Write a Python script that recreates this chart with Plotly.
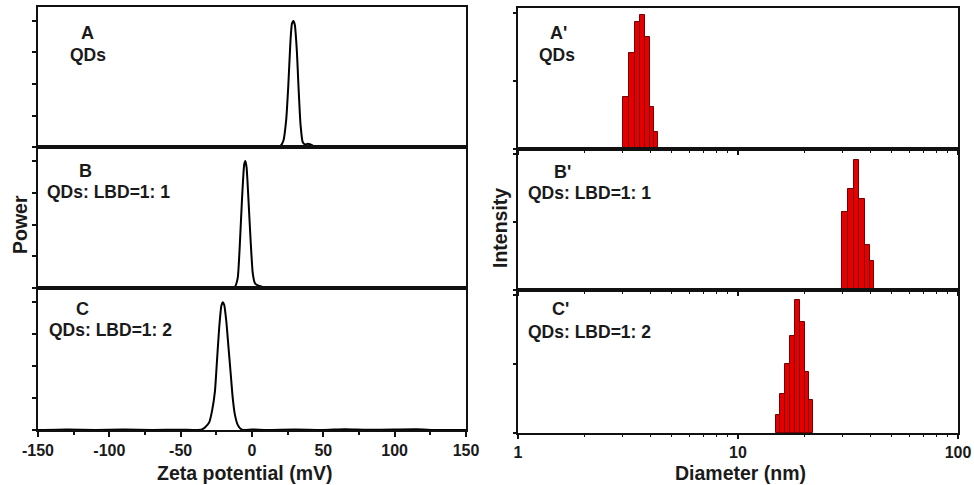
import plotly.graph_objects as go

# ---------------- data ----------------
# Zeta potential curves (mV, normalized power)
zeta_a = [-150, -120, -90, -60, -40, -25, -15, -10, -6, -2, 2, 6, 10, 14, 18, 20, 22, 24, 25.5, 27,
          28, 29, 30, 31.5, 32.5, 34, 35.5, 37, 39, 41, 43, 46, 60, 90, 120, 150]
power_a = [0, 0, 0, 0, 0, 0, 0, 0.004, 0.006, 0.004, 0.005, 0.003, 0.006, 0.004, 0.006, 0.01, 0.05, 0.22, 0.5, 0.85,
           0.98, 1.0, 0.97, 0.75, 0.5, 0.18, 0.04, 0.02, 0.025, 0.02, 0.008, 0, 0, 0, 0, 0]

zeta_b = [-150, -100, -50, -25, -15, -12, -10, -8.5, -7, -5.5, -4.7, -3.8, -2.5, -1, 0.5, 2, 4, 6, 8, 10,
          30, 60, 100, 150]
power_b = [0, 0, 0, 0, 0, 0.01, 0.08, 0.35, 0.7, 0.97, 1.0, 0.95, 0.7, 0.38, 0.12, 0.04, 0.02, 0.015, 0.005, 0,
           0, 0, 0, 0]

zeta_c = [-150, -130, -110, -90, -70, -50, -40, -35, -33, -30, -28, -26, -24.5, -23, -21.5, -20.5, -19.5, -18,
          -16.5, -15, -13.5, -12, -10, -8, -6, 0, 10, 30, 50, 65, 80, 100, 115, 130, 150]
power_c = [0, 0.004, 0, 0.003, 0, 0.002, 0, 0.005, 0.02, 0.06, 0.15, 0.3, 0.55, 0.8, 0.97, 1.0, 0.98, 0.85,
           0.65, 0.45, 0.25, 0.12, 0.04, 0.01, 0, 0.004, 0, 0.003, 0, 0.006, 0.002, 0.004, 0.006, 0, 0]

# DLS size distributions: bin edges (nm) and intensities
edges_a = [3.01, 3.206, 3.393, 3.585, 3.79, 3.981, 4.166, 4.343]
inten_a = [0.77, 1.41, 1.86, 1.97, 1.65, 0.61, 0.25]

edges_b = [29.6, 31.72, 33.68, 35.6, 37.78, 39.8, 41.5]
inten_b = [1.14, 1.49, 1.91, 1.33, 0.66, 0.42]

edges_c = [14.84, 15.52, 16.36, 17.24, 18.16, 19.13, 20.16, 21.02, 21.99]
inten_c = [0.26, 0.57, 1.0, 1.41, 1.93, 1.61, 0.89, 0.48]

zeta_ticks = [-150, -100, -50, 0, 50, 100, 150]
zeta_labels = ["-150", "-100", "-50", "0", "50", "100", "150"]
size_ticks = [1, 10, 100]
size_labels = ["1", "10", "100"]
size_minor = [2, 3, 4, 5, 6, 7, 8, 9, 20, 30, 40, 50, 60, 70, 80, 90]

# ---------------- figure ----------------
W, H = 974, 485
FONT = "Liberation Sans, Arial, sans-serif"
TXT = "#1a1a1a"
AX = "#111111"

fig = go.Figure()

for i, (xs, ys) in enumerate([(zeta_a, power_a), (zeta_b, power_b), (zeta_c, power_c)]):
    n = "" if i == 0 else str(i + 1)
    fig.add_trace(go.Scatter(x=xs, y=ys, mode="lines", xaxis="x" + n, yaxis="y" + n,
                             line=dict(color="black", width=2, shape="spline", smoothing=0.5),
                             showlegend=False, hoverinfo="skip"))

for i, (ed, hv) in enumerate([(edges_a, inten_a), (edges_b, inten_b), (edges_c, inten_c)]):
    n = str(i + 4)
    centers = [(ed[k] + ed[k + 1]) / 2 for k in range(len(hv))]
    widths = [ed[k + 1] - ed[k] for k in range(len(hv))]
    fig.add_trace(go.Bar(x=centers, y=hv, width=widths, xaxis="x" + n, yaxis="y" + n,
                         marker=dict(color="rgb(228,0,0)", line=dict(color="rgb(120,0,0)", width=1)),
                         showlegend=False, hoverinfo="skip"))

def px(v):
    return v / W

def py(v):
    return 1 - v / H

left_x = [px(38), px(466)]
right_x = [px(518), px(958)]
left_y = [[py(147), py(7)], [py(288), py(147)], [py(430), py(288)]]
right_y = [[py(149), py(8)], [py(290), py(149)], [py(433), py(290)]]

layout = dict(width=W, height=H, margin=dict(l=0, r=0, t=0, b=0, autoexpand=False),
              paper_bgcolor="white", plot_bgcolor="white", bargap=0,
              font=dict(family=FONT, color=TXT))

common = dict(showline=True, mirror=True, linecolor=AX, linewidth=2, showgrid=False, zeroline=False,
              tickcolor=AX, tickwidth=1.5, automargin=False)

TICKFONT = dict(family=FONT, size=16, color=TXT)

for i in range(3):
    n = "" if i == 0 else str(i + 1)
    xa = dict(common, domain=left_x, range=[-150, 150], anchor="y" + n)
    if i == 2:
        xa.update(ticks="outside", ticklen=5, tickvals=zeta_ticks,
                  ticktext=["<b>%s</b>" % t for t in zeta_labels], showticklabels=True,
                  tickfont=TICKFONT,
                  minor=dict(ticks="outside", ticklen=3, dtick=25, tick0=-150, tickcolor=AX, tickwidth=1.5))
    else:
        xa.update(ticks="", showticklabels=False)
    layout["xaxis" + n] = xa
    layout["yaxis" + n] = dict(common, domain=left_y[i], range=[0, 1.111], anchor="x" + n,
                               tickvals=[0, 0.25, 0.5, 0.75, 1.0], ticks="outside", ticklen=4,
                               showticklabels=False)

for i in range(3):
    n = str(i + 4)
    xa = dict(common, domain=right_x, type="log", range=[0, 2], anchor="y" + n,
              tickvals=size_ticks, ticktext=["<b>%s</b>" % t for t in size_labels],
              ticks="outside", ticklen=4,
              minor=dict(ticks="outside", ticklen=2, tickvals=size_minor, tickcolor=AX, tickwidth=1.2))
    if i == 2:
        xa.update(showticklabels=True, tickfont=TICKFONT)
    else:
        xa.update(showticklabels=False)
    layout["xaxis" + n] = xa
    layout["yaxis" + n] = dict(common, domain=right_y[i], range=[0, 2.07], anchor="x" + n,
                               tickvals=[0, 1, 2], ticks="outside", ticklen=3, showticklabels=False)

ann = []

def add(text, x, y, size, xanchor="center", angle=0):
    ann.append(dict(text="<b>%s</b>" % text, x=px(x), y=py(y), xref="paper", yref="paper", showarrow=False,
                    xanchor=xanchor, yanchor="middle", textangle=angle,
                    font=dict(family=FONT, size=size, color=TXT)))

add("Zeta potential (mV)", 245, 473, 19.5)
add("Diameter (nm)", 740, 473, 19.5)
add("Power", 20, 225, 19.5, angle=-90)
add("Intensity", 500, 228, 19.5, angle=-90)

add("A", 87, 33, 18)
add("QDs", 88, 55, 17.5)
add("B", 85, 171, 18)
add("QDs: LBD=1: 1", 45, 192, 17.5, xanchor="left")
add("C", 82, 309, 18)
add("QDs: LBD=1: 2", 47, 330, 17.5, xanchor="left")

add("A'", 558, 33, 18)
add("QDs", 557, 55, 17.5)
add("B'", 562, 172, 18)
add("QDs: LBD=1: 1", 526, 193, 17.5, xanchor="left")
add("C'", 560, 309, 18)
add("QDs: LBD=1: 2", 526, 332, 17.5, xanchor="left")

layout["annotations"] = ann
fig.update_layout(**layout)
fig.write_html("out.html")
